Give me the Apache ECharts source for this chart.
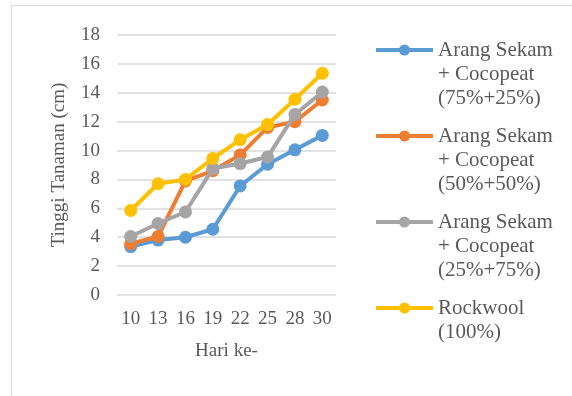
<!DOCTYPE html>
<html>
<head>
<meta charset="utf-8">
<script src="https://cdn.jsdelivr.net/npm/echarts@6/dist/echarts.min.js"></script>
<style>
  html, body { margin: 0; padding: 0; background: #fff; }
  #chart { width: 572px; height: 396px; }
</style>
</head>
<body>
<div id="chart"></div>
<script>
// Plant height (cm) by day of observation, per growing medium
const days = ['10', '13', '16', '19', '22', '25', '28', '30'];
const seriesNames = [
  'Arang Sekam\n+ Cocopeat\n(75%+25%)',
  'Arang Sekam\n+ Cocopeat\n(50%+50%)',
  'Arang Sekam\n+ Cocopeat\n(25%+75%)',
  'Rockwool\n(100%)'
];
const sekam75 = [3.35, 3.8, 4.0, 4.55, 7.55, 9.05, 10.05, 11.05];
const sekam50 = [3.55, 4.05, 7.9, 8.6, 9.7, 11.6, 12.0, 13.5];
const sekam25 = [4.05, 4.95, 5.75, 8.75, 9.1, 9.55, 12.5, 14.05];
const rockwool = [5.85, 7.7, 8.0, 9.45, 10.75, 11.8, 13.55, 15.35];
const yTicks = { min: 0, max: 18, interval: 2 };

const colors = ['#5B9BD5', '#ED7D31', '#A5A5A5', '#FFC000'];
const values = [sekam75, sekam50, sekam25, rockwool];
const textColor = '#595959';
const serif = '"Liberation Serif", "Times New Roman", serif';
const legendLine = 24;

// Legend labels: icon sits beside the first text line, so pad the text above
function padFirstLine(name) {
  const lines = name.split('\n').length;
  return '\n'.repeat(lines - 1) + name;
}
const legendTops = [50, 136, 222, 308];
const legends = seriesNames.map((name, i) => {
  const lines = name.split('\n').length * 2 - 1;
  return {
    data: [name],
    orient: 'vertical',
    left: 374,
    top: legendTops[i] - lines * legendLine / 2,
    padding: 0,
    itemWidth: 57,
    itemHeight: 14,
    itemGap: 0,
    selectedMode: false,
    lineStyle: { width: 4 },
    formatter: padFirstLine,
    textStyle: { fontFamily: serif, fontSize: 21, color: textColor, lineHeight: legendLine }
  };
});

const chart = echarts.init(document.getElementById('chart'), null, { renderer: 'canvas' });
chart.setOption({
  animation: false,
  color: colors,
  graphic: [{
    type: 'rect',
    shape: { x: 11.5, y: 5.5, width: 600, height: 420 },
    style: { fill: 'none', stroke: '#d9d9d9', lineWidth: 1 },
    silent: true,
    z: -1
  }],
  legend: legends,
  grid: { left: 117, right: 236, top: 35, bottom: 101 },
  xAxis: {
    type: 'category',
    data: days,
    boundaryGap: true,
    name: 'Hari ke-',
    nameLocation: 'middle',
    nameGap: 47,
    nameTextStyle: { fontFamily: serif, fontSize: 19, color: textColor },
    axisLine: { show: false },
    axisTick: { show: false },
    axisLabel: { fontFamily: serif, fontSize: 19, color: textColor, margin: 15, interval: 0 }
  },
  yAxis: {
    type: 'value',
    min: yTicks.min,
    max: yTicks.max,
    interval: yTicks.interval,
    name: 'Tinggi Tanaman (cm)',
    nameLocation: 'middle',
    nameGap: 48,
    nameTextStyle: { fontFamily: serif, fontSize: 19, color: textColor },
    axisLine: { show: false },
    axisTick: { show: false },
    axisLabel: { fontFamily: serif, fontSize: 19, color: textColor, margin: 17 },
    splitLine: { lineStyle: { color: '#d9d9d9', width: 1.5 } }
  },
  series: seriesNames.map((name, i) => ({
    name: name,
    type: 'line',
    data: values[i],
    symbol: 'circle',
    symbolSize: 13,
    lineStyle: { width: 4, color: colors[i] },
    itemStyle: { color: colors[i] },
    z: 2 + i
  }))
});
</script>
</body>
</html>
